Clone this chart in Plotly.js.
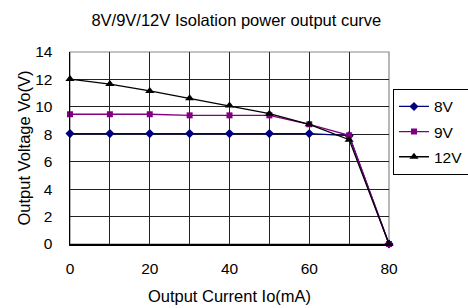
<!DOCTYPE html>
<html>
<head>
<meta charset="utf-8">
<script src="https://cdn.plot.ly/plotly-3.0.1.min.js"></script>
<style>html,body{margin:0;padding:0;background:#fff;}#chart{width:468px;height:308px;}</style>
</head>
<body>
<div id="chart"></div>
<script>
const current = [0, 10, 20, 30, 40, 50, 60, 70, 80];
const v8 = [8.05, 8.05, 8.05, 8.05, 8.05, 8.05, 8.05, 7.9, 0];
const v9 = [9.46, 9.46, 9.46, 9.38, 9.38, 9.38, 8.73, 7.92, 0];
const v12 = [12.03, 11.66, 11.16, 10.62, 10.09, 9.5, 8.73, 7.61, 0];
const seriesNames = ['8V', '9V', '12V'];
const xTickVals = [0, 20, 40, 60, 80];
const yTickVals = [0, 2, 4, 6, 8, 10, 12, 14];

const font = 'Liberation Sans, Arial, sans-serif';
const traces = [
  {x: current, y: v8, name: seriesNames[0], legendgroup: 'a', mode: 'lines+markers', cliponaxis: false,
   line: {color: '#000080', width: 1.3}, marker: {symbol: 'diamond', size: 7, color: '#000080'}},
  {x: current, y: v9, name: seriesNames[1], legendgroup: 'b', mode: 'lines+markers', cliponaxis: false,
   line: {color: '#800080', width: 1.3}, marker: {symbol: 'square', size: 6, color: '#800080'}},
  {x: current, y: v12, name: seriesNames[2], legendgroup: 'c', mode: 'lines+markers', cliponaxis: false,
   line: {color: '#000000', width: 1.3}, marker: {symbol: 'triangle-up', size: 8, color: '#000000'}}
];
const layout = {
  width: 468, height: 308,
  margin: {l: 70, r: 79, t: 52, b: 63.5, autoexpand: false},
  paper_bgcolor: '#fff', plot_bgcolor: '#fff',
  font: {family: font, size: 15, color: '#000'},
  title: {text: '8V/9V/12V Isolation power output curve', font: {family: font, size: 16.5, color: '#000'},
          x: 0.505, xanchor: 'center', y: 0.935, yanchor: 'middle'},
  xaxis: {range: [0, 80], tickvals: xTickVals, showgrid: true, gridcolor: '#222', gridwidth: 1,
          minor: {dtick: 10, tick0: 0, showgrid: true, gridcolor: '#222', gridwidth: 1},
          showline: true, linecolor: '#000', linewidth: 1.5, zeroline: false, ticks: '',
          ticklabelstandoff: 10, tickfont: {size: 15.5},
          title: {text: 'Output Current Io(mA)', font: {size: 16.5}, standoff: 14}},
  yaxis: {range: [0, 14], tickvals: yTickVals, showgrid: true, gridcolor: '#222', gridwidth: 1,
          showline: true, linecolor: '#000', linewidth: 1.5, zeroline: false, ticks: '',
          ticklabelstandoff: 13, tickfont: {size: 15.5, family: 'Liberation Sans Narrow, Liberation Sans, Arial, sans-serif'},
          title: {text: 'Output Voltage Vo(V)', font: {size: 16.5}, standoff: 0}},
  shapes: [{type: 'rect', xref: 'paper', yref: 'paper', x0: 0, x1: 1, y0: 0, y1: 1,
            line: {color: '#888', width: 1.2}, layer: 'below'}],
  showlegend: true,
  legend: {x: 1.0125, xanchor: 'left', y: 0.808, yanchor: 'top', bordercolor: '#000', borderwidth: 1,
           bgcolor: '#fff', font: {size: 15.5, family: font}, traceorder: 'grouped', tracegroupgap: 2}
};
Plotly.newPlot('chart', traces, layout, {displayModeBar: false, staticPlot: true});
</script>
</body>
</html>
